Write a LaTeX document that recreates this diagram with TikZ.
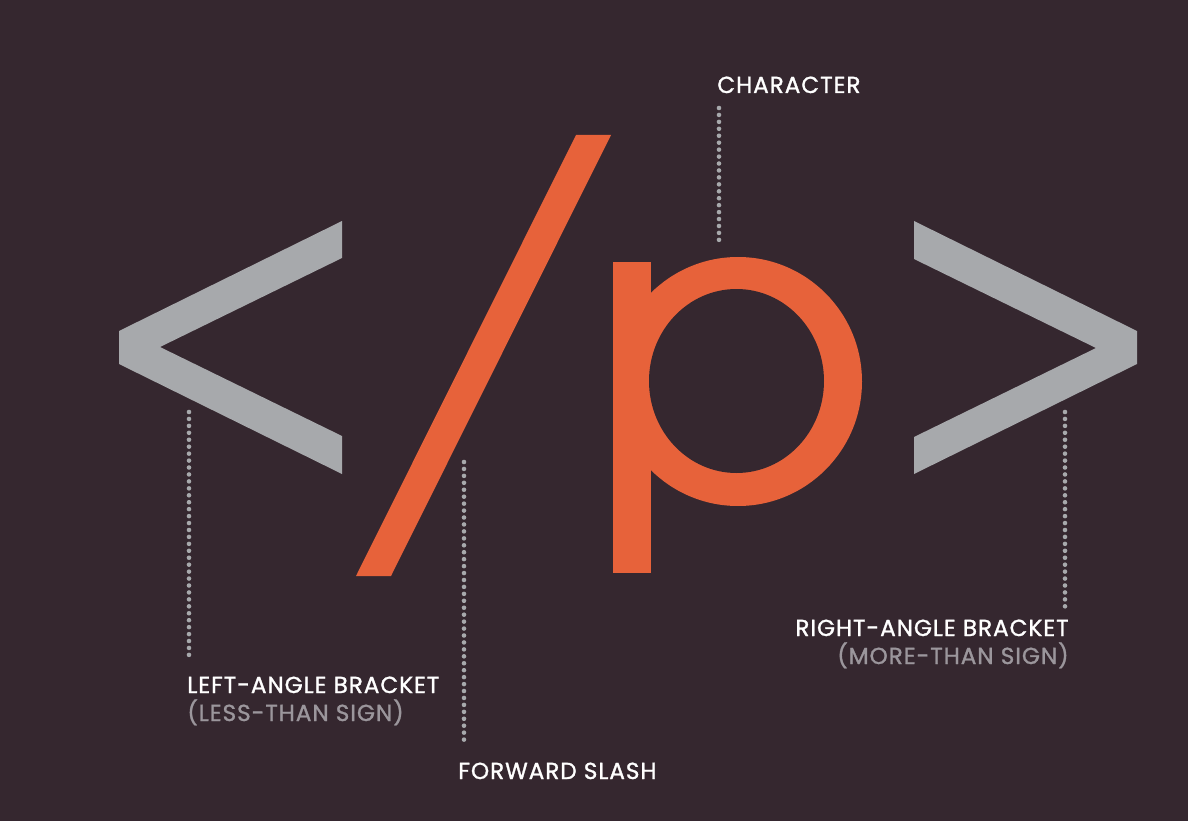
\documentclass[tikz,border=0pt]{standalone}
\usepackage{fontspec}
\setmainfont{Poppins}
\newfontfamily\tagfont{Poppins}[LetterSpace=4, FakeBold=1.2]
\definecolor{tagBg}{RGB}{53, 39, 47}
\definecolor{tagGray}{RGB}{167, 169, 172}
\definecolor{tagOrange}{RGB}{231, 98, 58}
\definecolor{noteGray}{RGB}{155, 150, 156}
\usetikzlibrary{positioning}

\begin{document}
\begin{tikzpicture}[
    x=0.02cm, y=-0.02cm,
    glyphgray/.style={fill=tagGray},
    glyphorange/.style={fill=tagOrange},
    leader/.style={draw=tagGray, line width=2.6pt, line cap=round,
                   dash pattern=on 0pt off 3.95pt},
    title/.style={inner sep=0pt, text=white, font=\tagfont\fontsize{13.2}{15}\selectfont},
    subtitle/.style={inner sep=0pt, text=noteGray, font=\tagfont\fontsize{13.2}{15}\selectfont},
  ]
    \fill[tagBg] (0,0) rectangle (1188,821);
    \useasboundingbox (0,0) rectangle (1188,821);

    % left-angle bracket
    \fill[glyphgray] (342,221) -- (119,331) -- (119,364) -- (342,474)
      -- (342,436) -- (160,347) -- (342,258) -- cycle;

    % forward slash
    \fill[glyphorange] (576,135) -- (611,135) -- (391,576) -- (356,576) -- cycle;

    % character p
    \fill[glyphorange] (613,262) rectangle (651,573);
    \fill[glyphorange] (738,381.5) ellipse [x radius=124, y radius=124.5];
    \fill[tagBg] (736.5,381) ellipse [x radius=87.5, y radius=92];

    % right-angle bracket
    \fill[glyphgray] (914,221) -- (1137,331) -- (1137,364) -- (914,474)
      -- (914,437) -- (1096,348) -- (914,259) -- cycle;

    % labels
    \node[title, anchor=base west] (charLabel) at (717,93) {CHARACTER};
    \node[title, anchor=base west] (leftLabel) at (187,693) {LEFT-ANGLE BRACKET};
    \node[subtitle, anchor=base west] (leftNote) at (187,721) {(LESS-THAN SIGN)};
    \node[title, anchor=base west] (slashLabel) at (458,779) {FORWARD SLASH};
    \node[title, anchor=base east] (rightLabel) at (1069,636) {RIGHT-ANGLE BRACKET};
    \node[subtitle, anchor=base east] (rightNote) at (1069,664) {(MORE-THAN SIGN)};

    % leader lines
    \coordinate (charTop) at (719,108);
    \coordinate (charEnd) at (719,243);
    \coordinate (leftTop) at (189,412);
    \coordinate (leftEnd) at (189,657);
    \coordinate (slashTop) at (464,462);
    \coordinate (slashEnd) at (464,746);
    \coordinate (rightTop) at (1065,412);
    \coordinate (rightEnd) at (1065,608);
    \draw[leader] (charTop) -- (charEnd);
    \draw[leader] (leftTop) -- (leftEnd);
    \draw[leader] (slashTop) -- (slashEnd);
    \draw[leader] (rightTop) -- (rightEnd);
  \end{tikzpicture}
\end{document}
